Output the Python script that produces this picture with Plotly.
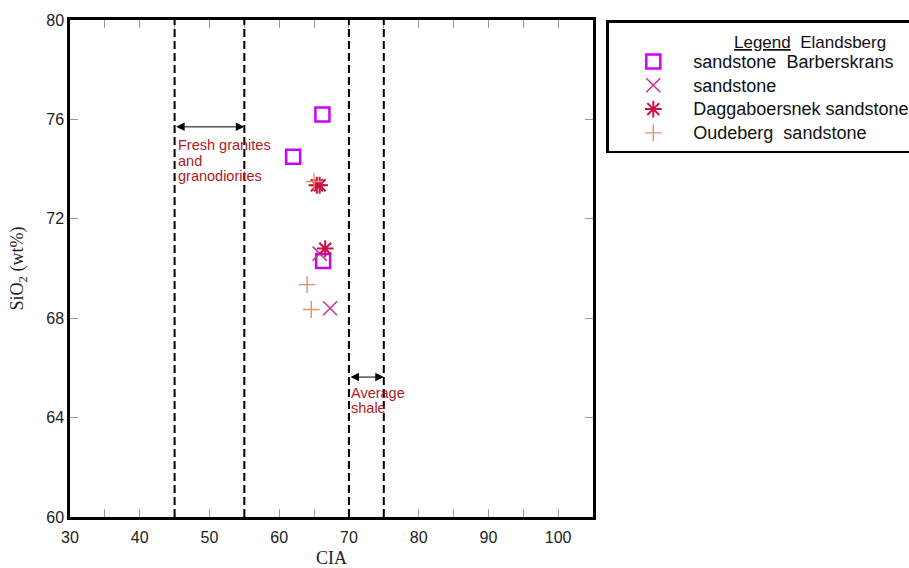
import plotly.graph_objects as go

# Data (CIA, SiO2 wt%)
barb_x = [66.2, 62.0, 66.3]
barb_y = [76.2, 74.5, 70.3]
sand_x = [67.3, 65.8]
sand_y = [68.4, 70.6]
dagg_x = [65.4, 65.8, 66.6]
dagg_y = [73.35, 73.35, 70.8]
oude_x = [64.0, 64.6, 65.0]
oude_y = [69.35, 68.35, 73.5]

names = ["sandstone  Barberskrans", "sandstone", "Daggaboersnek sandstone", "Oudeberg  sandstone"]
ref_lines = [45, 55, 70, 75]
x_ticks = [30, 40, 50, 60, 70, 80, 90, 100]
y_ticks = [60, 64, 68, 72, 76, 80]

label_fresh = ["Fresh granites", "and", "granodiorites"]
label_shale = ["Average", "shale"]


def big(t):
    return '<span style="font-size:18px">' + t + '</span>'


fig = go.Figure()
fig.add_trace(go.Scatter(x=barb_x, y=barb_y, mode="markers", name=big(names[0]),
                         marker=dict(symbol="square-open", size=14, color="#cc00ff", line=dict(width=2.5, color="#cc00ff"))))
fig.add_trace(go.Scatter(x=sand_x, y=sand_y, mode="markers", name=big(names[1]),
                         marker=dict(symbol="x-thin-open", size=14, color="#cc3399", line=dict(width=1.6, color="#cc3399"))))
fig.add_trace(go.Scatter(x=dagg_x, y=dagg_y, mode="markers", name=big(names[2]),
                         marker=dict(symbol="asterisk-open", size=14, color="#cc1144", line=dict(width=2, color="#cc1144"))))
fig.add_trace(go.Scatter(x=oude_x, y=oude_y, mode="markers", name=big(names[3]),
                         marker=dict(symbol="cross-thin-open", size=12, color="#e0906e", line=dict(width=1.4, color="#e0906e"))))

for xv in ref_lines:
    fig.add_shape(type="line", x0=xv, x1=xv, xref="x", yref="y domain", y0=0, y1=1,
                  line=dict(color="black", width=2, dash="8px,4px"))

# double arrows
for (a, b, yv) in [(45, 55, 75.7), (70, 75, 65.63)]:
    fig.add_annotation(x=b, y=yv, ax=a, ay=yv, xref="x", yref="y", axref="x", ayref="y",
                       text="", showarrow=True, arrowhead=2, startarrowhead=2, arrowside="end+start",
                       arrowsize=1.7, startarrowsize=1.7, arrowwidth=1, arrowcolor="black")

tfont = dict(family="Liberation Sans, Arial", size=14.5, color="#b01a1a")
for i, t in enumerate(label_fresh):
    fig.add_annotation(x=45.2, y=74.97, xref="x", yref="y", yshift=-15.5 * i, text=t,
                       showarrow=False, xanchor="left", yanchor="middle", font=tfont)
for i, t in enumerate(label_shale):
    fig.add_annotation(x=70.0, y=65.0, xref="x", yref="y", yshift=-15.5 * i, text=t,
                       showarrow=False, xanchor="left", yanchor="middle", font=tfont)

# legend heading
fig.add_annotation(x=1.266, y=0.954, xref="paper", yref="paper", text="<u>Legend</u>  Elandsberg",
                   showarrow=False, xanchor="left", yanchor="middle",
                   font=dict(family="Liberation Sans, Arial", size=17, color="#111"))

fig.update_xaxes(range=[30, 105], tickvals=x_ticks, ticks="inside", ticklen=8, tickcolor="#999",
                 minor=dict(ticks="inside", dtick=5, ticklen=8, tickcolor="#999"),
                 showline=True, linecolor="black", linewidth=2.5, mirror="allticks", showgrid=False, zeroline=False,
                 automargin=False, ticklabelstandoff=4,
                 tickfont=dict(family="Liberation Sans, Arial", size=16, color="#222"),
                 title=dict(text="CIA", font=dict(family="Liberation Serif, Times New Roman", size=18, color="#222"), standoff=13))
fig.update_yaxes(range=[60, 80], tickvals=y_ticks, ticks="inside", ticklen=8, tickcolor="#999",
                 showline=True, linecolor="black", linewidth=2.5, mirror="allticks", showgrid=False, zeroline=False,
                 automargin=False,
                 tickfont=dict(family="Liberation Sans, Arial", size=16, color="#222"),
                 title=dict(text="SiO<sub>2</sub> (wt%)", font=dict(family="Liberation Serif, Times New Roman", size=18, color="#222"), standoff=18))

fig.update_layout(width=909, height=568, margin=dict(l=70, r=316, t=20, b=51, autoexpand=False),
                  paper_bgcolor="white", plot_bgcolor="white", showlegend=True,
                  legend=dict(x=1.025, y=1.0, xanchor="left", yanchor="top", bgcolor="rgba(0,0,0,0)",
                              bordercolor="black", borderwidth=2.5, itemwidth=70, tracegroupgap=0,
                              font=dict(family="Liberation Sans, Arial", size=16, color="#111"),
                              title=dict(text=" ", side="top left",
                                         font=dict(family="Liberation Sans, Arial", size=17, color="#111"))))

fig.write_html("out.html")
